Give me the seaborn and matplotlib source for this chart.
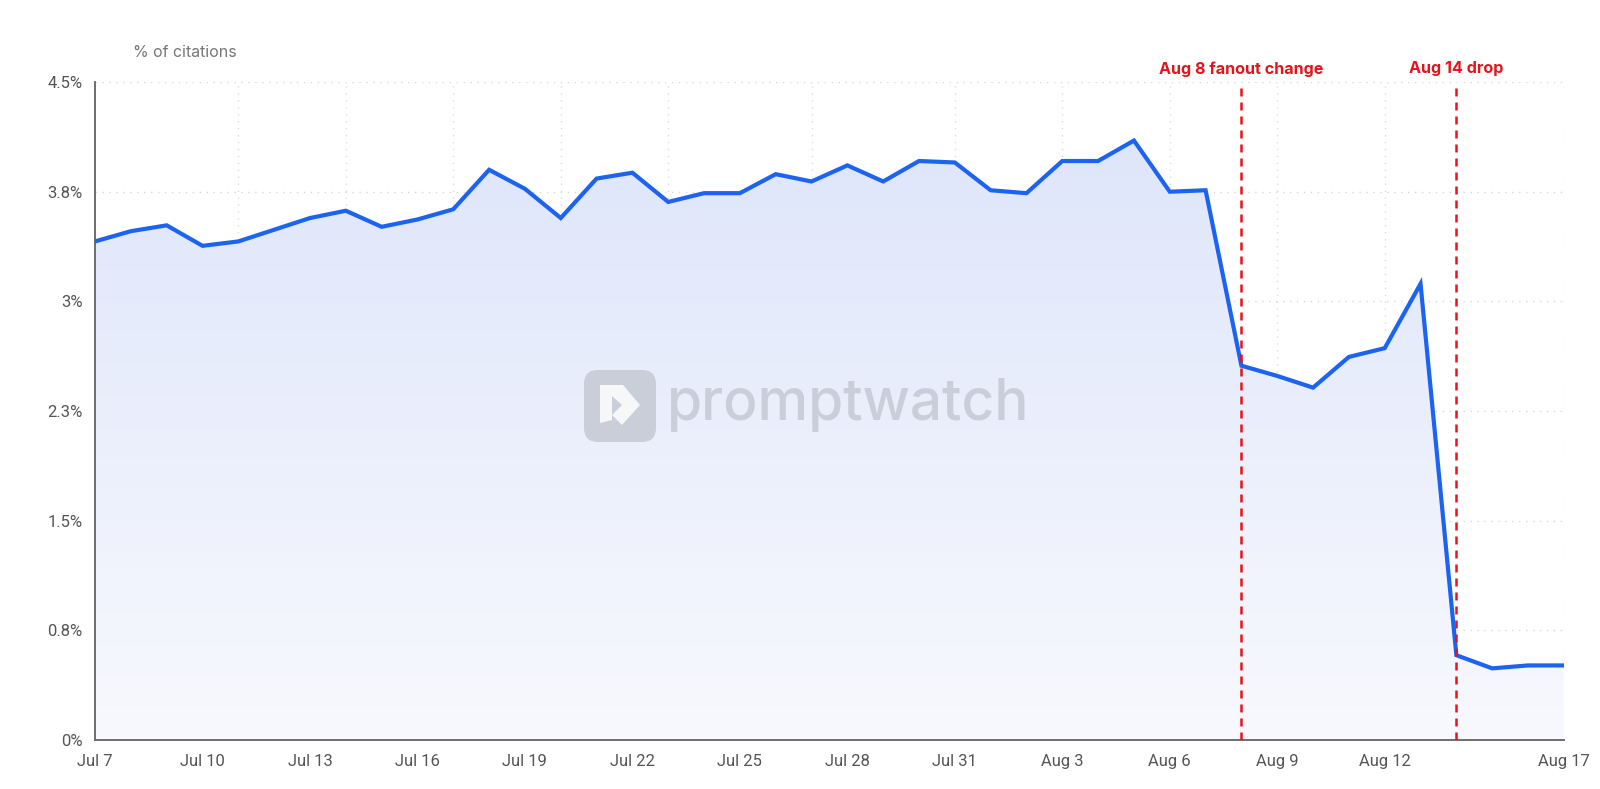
import numpy as np
import pandas as pd
import matplotlib
matplotlib.use("Agg")
import matplotlib.pyplot as plt
import matplotlib.dates as mdates
from matplotlib.colors import LinearSegmentedColormap
from matplotlib.patches import FancyBboxPatch, Polygon
import seaborn as sns

# -------------------------
#  Data
# -------------------------

dates = pd.date_range("2025-07-07", "2025-08-17", freq="D")
citations = [3.41, 3.48, 3.52, 3.38, 3.41, 3.49, 3.57, 3.62, 3.51, 3.56,
             3.63, 3.90, 3.77, 3.57, 3.84, 3.88, 3.68, 3.74, 3.74, 3.87,
             3.82, 3.93, 3.82, 3.96, 3.95, 3.76, 3.74, 3.96, 3.96, 4.10,
             3.75, 3.76, 2.56, 2.49, 2.41, 2.62, 2.68, 3.12, 0.58, 0.49,
             0.51, 0.51]

tick_dates = ["2025-07-07", "2025-07-10", "2025-07-13", "2025-07-16", "2025-07-19",
              "2025-07-22", "2025-07-25", "2025-07-28", "2025-07-31", "2025-08-03",
              "2025-08-06", "2025-08-09", "2025-08-12", "2025-08-17"]
grid_dates = ["2025-07-11", "2025-07-14", "2025-07-17", "2025-07-20", "2025-07-23",
              "2025-07-27", "2025-07-31", "2025-08-03", "2025-08-06", "2025-08-09",
              "2025-08-12", "2025-08-17"]
y_ticks = [0, 0.75, 1.5, 2.25, 3.0, 3.75, 4.5]
y_labels = ["0%", "0.8%", "1.5%", "2.3%", "3%", "3.8%", "4.5%"]

events = ["2025-08-08", "2025-08-14"]
event_labels = ["Aug 8 fanout change", "Aug 14 drop"]

df = pd.DataFrame({"date": dates, "pct": citations})

# -------------------------
#  Plot
# -------------------------

sns.set_theme(style="white")
plt.rcParams["font.family"] = ["Inter", "DejaVu Sans"]

fig = plt.figure(figsize=(16, 7.89), dpi=100)
ax = fig.add_axes([0.0594, 0.0621, 0.918, 0.8339])

line_col = "#1c63f2"
red = "#e5141c"
grey_txt = "#555555"

# gradient area fill under the line
x0, x1 = mdates.date2num(dates[0]), mdates.date2num(dates[-1])
cmap = LinearSegmentedColormap.from_list("fade", ["#f8f9fe", "#dce4fa"])
grad = np.linspace(0, 1, 256).reshape(-1, 1)
img = ax.imshow(grad, cmap=cmap, aspect="auto", origin="lower",
                extent=[x0, x1, 0, 4.5], zorder=1)
poly = ax.fill_between(df["date"], df["pct"], 0, color="none", lw=0)
img.set_clip_path(poly.get_paths()[0], transform=ax.transData)

sns.lineplot(data=df, x="date", y="pct", ax=ax, color=line_col, lw=3,
             zorder=4, solid_joinstyle="miter")

# event markers
for d, lab in zip(events, event_labels):
    dn = pd.Timestamp(d)
    ax.axvline(dn, color=red, ls=(0, (3.2, 2.4)), lw=1.8, zorder=5)
    ax.text(dn, 4.59, lab, color=red, fontsize=11.6, fontweight="bold",
            ha="center", va="center")

# grid
for g in grid_dates:
    ax.axvline(pd.Timestamp(g), color="#dcdcdc", ls=(0, (1, 4)), lw=1, zorder=0.5)
for yv in y_ticks[1:]:
    ax.axhline(yv, color="#d8d8d8", ls=(0, (1, 4)), lw=1, zorder=0.5)

ax.set_xlim(dates[0], dates[-1])
ax.set_ylim(0, 4.5)
ax.set_xticks([pd.Timestamp(t) for t in tick_dates])
ax.set_xticklabels([f"{pd.Timestamp(t):%b} {pd.Timestamp(t).day}" for t in tick_dates])
ax.set_yticks(y_ticks)
ax.set_yticklabels(y_labels)
ax.set_xlabel("")
ax.set_ylabel("")

for s in ["top", "right"]:
    ax.spines[s].set_visible(False)
for s in ["left", "bottom"]:
    ax.spines[s].set_color("#6e6e6e")
    ax.spines[s].set_linewidth(1.4)
ax.tick_params(axis="both", length=6, width=1.2, color="#6e6e6e",
               labelcolor=grey_txt, labelsize=12, pad=3)
ax.tick_params(axis="x", pad=4)
for t in ax.get_xticklabels() + ax.get_yticklabels():
    t.set_family(["Roboto", "DejaVu Sans"])
ax.set_facecolor("white")

fig.text(0.083, 0.934, "% of citations", color="#777777", fontsize=11.5,
         ha="left", va="center")

# watermark
wm = "#c9ced9"
icon = FancyBboxPatch((584, 347), 72, 72, boxstyle="round,pad=0,rounding_size=14",
                      transform=None, facecolor=wm, edgecolor="none", zorder=6,
                      figure=fig)
fig.patches.append(icon)
mark = Polygon([(600, 404), (623, 404), (640, 384), (622, 364), (612, 374),
                (622, 384), (612, 393), (612, 369), (600, 366)],
               closed=True, transform=None, facecolor="white", edgecolor="none",
               zorder=7, figure=fig, alpha=0.85)
fig.patches.append(mark)
fig.text(0.417, 0.487, "promptwatch", color=wm, fontsize=41, fontweight="medium",
         ha="left", va="center", zorder=7)

fig.savefig("out.png", dpi=100, facecolor="white")
